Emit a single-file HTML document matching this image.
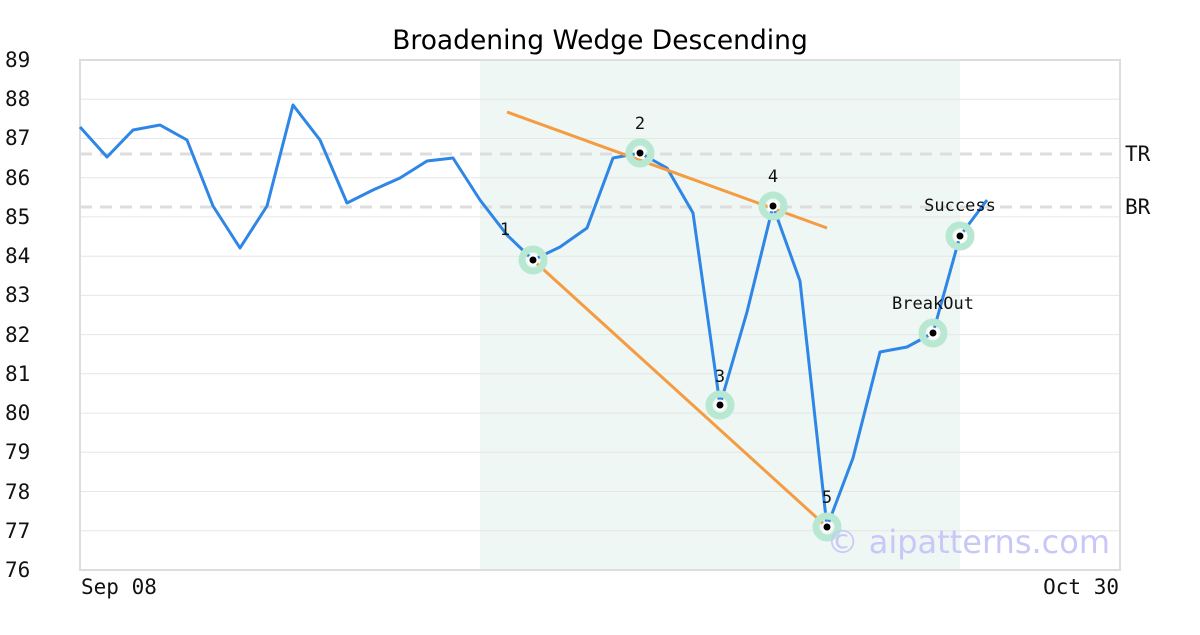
<!DOCTYPE html>
<html><head><meta charset="utf-8"><style>body{margin:0;background:#fff}</style></head><body>
<svg width="1200" height="630" xmlns="http://www.w3.org/2000/svg">
<rect width="1200" height="630" fill="#fff"/>
<rect x="480" y="60" width="480" height="510" fill="#eef7f3"/>
<g stroke="#e6e6e6" stroke-width="1">
<line x1="80" y1="99.2" x2="1120" y2="99.2"/><line x1="80" y1="138.5" x2="1120" y2="138.5"/>
<line x1="80" y1="177.7" x2="1120" y2="177.7"/><line x1="80" y1="216.9" x2="1120" y2="216.9"/>
<line x1="80" y1="256.2" x2="1120" y2="256.2"/><line x1="80" y1="295.4" x2="1120" y2="295.4"/>
<line x1="80" y1="334.6" x2="1120" y2="334.6"/><line x1="80" y1="373.8" x2="1120" y2="373.8"/>
<line x1="80" y1="413.1" x2="1120" y2="413.1"/><line x1="80" y1="452.3" x2="1120" y2="452.3"/>
<line x1="80" y1="491.5" x2="1120" y2="491.5"/><line x1="80" y1="530.8" x2="1120" y2="530.8"/>
</g>
<g stroke="#ddd" stroke-width="3" stroke-dasharray="12,8">
<line x1="80" y1="154" x2="1120" y2="154"/><line x1="80" y1="207" x2="1120" y2="207"/>
</g>
<rect x="80" y="60" width="1040" height="510" fill="none" stroke="#ddd" stroke-width="2"/>
<text x="600" y="49" font-family="DejaVu Sans, sans-serif" font-size="26.5" text-anchor="middle">Broadening Wedge Descending</text>
<g font-family="DejaVu Sans Mono, monospace" font-size="21" fill="#111">
<text x="5" y="67">89</text><text x="5" y="106">88</text><text x="5" y="145">87</text><text x="5" y="185">86</text>
<text x="5" y="224">85</text><text x="5" y="263">84</text><text x="5" y="302">83</text><text x="5" y="342">82</text>
<text x="5" y="381">81</text><text x="5" y="420">80</text><text x="5" y="459">79</text><text x="5" y="499">78</text>
<text x="5" y="538">77</text><text x="5" y="577">76</text>
<text x="81" y="594">Sep 08</text><text x="1119" y="594" text-anchor="end">Oct 30</text>
<text x="1125" y="161">TR</text><text x="1125" y="214">BR</text>
</g>
<polyline fill="none" stroke="#2e86e6" stroke-width="3" stroke-linejoin="round" points="80,127 107,157 133,130 160,125 187,140 213,206 240,248 267,206 293,105 320,140 347,203 373,190 400,178 427,161 453,158 480,200 507,235 533,260 560,247 587,228 613,158 640,153 667,168 693,213 720,405 747,312 773,206 800,281 827,527 853,458 880,352 907,347 933,333 960,236 987,200"/>
<g stroke="#f59b42" stroke-width="3">
<line x1="507" y1="112" x2="827" y2="228"/><line x1="533" y1="260" x2="827" y2="527"/>
</g>
<g fill="none" stroke="#b9e8d2" stroke-width="7">
<circle cx="533" cy="260" r="11"/><circle cx="640" cy="153" r="11"/><circle cx="720" cy="405" r="11"/>
<circle cx="773" cy="206" r="11"/><circle cx="827" cy="527" r="11"/><circle cx="933" cy="333" r="11"/><circle cx="960" cy="236" r="11"/>
</g>
<g fill="#000" stroke="#fff" stroke-width="2">
<circle cx="533" cy="260" r="4.5"/><circle cx="640" cy="153" r="4.5"/><circle cx="720" cy="405" r="4.5"/>
<circle cx="773" cy="206" r="4.5"/><circle cx="827" cy="527" r="4.5"/><circle cx="933" cy="333" r="4.5"/><circle cx="960" cy="236" r="4.5"/>
</g>
<g font-family="DejaVu Sans Mono, monospace" font-size="17" fill="#111" text-anchor="middle">
<text x="505" y="235">1</text><text x="640" y="129">2</text><text x="720" y="382">3</text>
<text x="773" y="182">4</text><text x="827" y="503">5</text>
<text x="933" y="309">BreakOut</text><text x="960" y="211">Success</text>
</g>
<text x="1110" y="553" font-family="DejaVu Sans, sans-serif" font-size="32" fill="#c8c8f8" text-anchor="end">© aipatterns.com</text>
</svg>
</body></html>
